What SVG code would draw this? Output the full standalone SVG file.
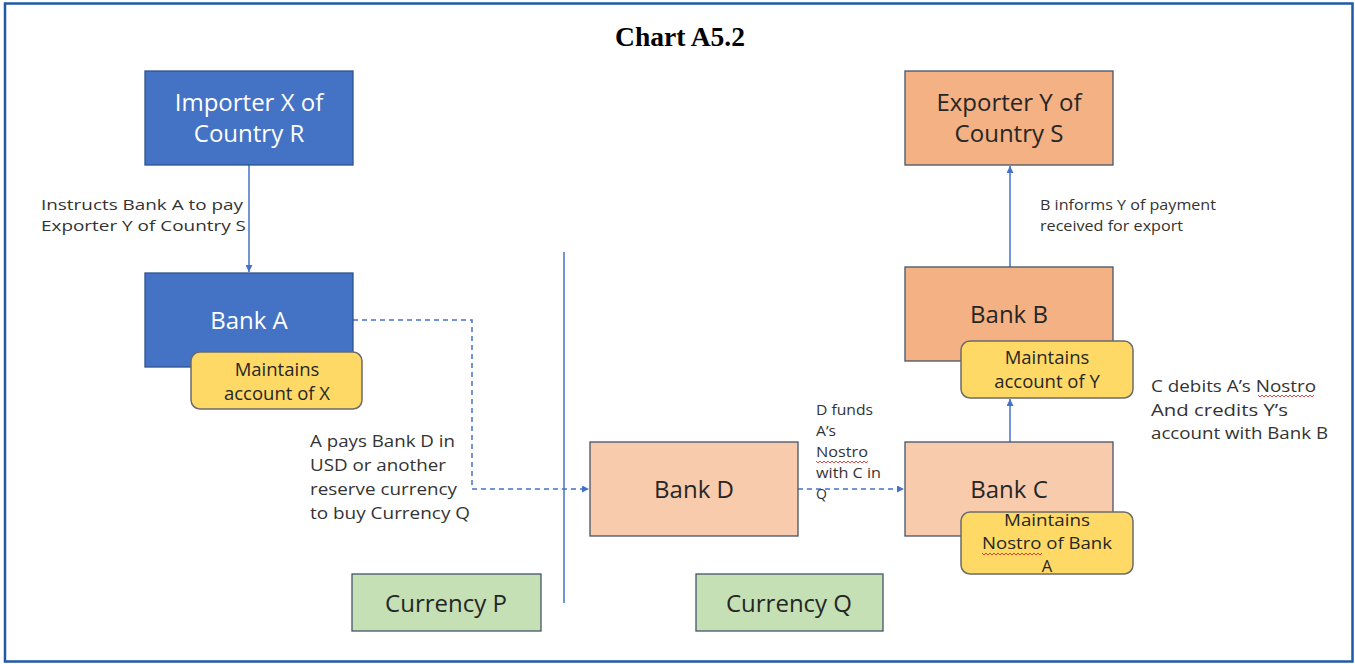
<svg xmlns="http://www.w3.org/2000/svg" width="1355" height="664" viewBox="0 0 1355 664">
<defs>
<style>
.t{font-family:"Open Sans","Noto Sans","Liberation Sans",sans-serif;}
.blue{fill:#4472c4;stroke:#2f528f;stroke-width:1.3;}
.peach{fill:#f8cbad;stroke:#44546a;stroke-width:1.3;}
.orange{fill:#f4b183;stroke:#44546a;stroke-width:1.3;}
.green{fill:#c5e0b4;stroke:#44546a;stroke-width:1.3;}
.yellow{fill:#ffd966;stroke:#6b6b6b;stroke-width:1.5;}
.wt{fill:#ffffff;font-size:24px;text-anchor:middle;}
.dt{fill:#262626;font-size:24px;text-anchor:middle;}
.yt{fill:#262626;font-size:18.5px;text-anchor:middle;}
.yt2{fill:#262626;font-size:16.5px;text-anchor:middle;}
.lbl{fill:#333333;font-size:14px;}
.lbl2{fill:#333333;font-size:16.5px;}
.solid{stroke:#4472c4;stroke-width:1.5;fill:none;}
.dash{stroke:#4472c4;stroke-width:1.5;fill:none;stroke-dasharray:5 4;}
.sq{stroke:#e03030;stroke-width:0.9;fill:none;}
</style>
<marker id="ah" viewBox="0 0 10 10" refX="10" refY="5" markerWidth="7" markerHeight="7" orient="auto" markerUnits="userSpaceOnUse">
<path d="M0,0 L10,5 L0,10 z" fill="#4472c4"/>
</marker>
</defs>
<rect x="5" y="3.5" width="1347.5" height="658" fill="#ffffff" stroke="#1f5aa6" stroke-width="2.5"/>
<text x="680" y="46" text-anchor="middle" font-family="'Liberation Serif',serif" font-weight="bold" font-size="27" fill="#000" textLength="130" lengthAdjust="spacingAndGlyphs">Chart A5.2</text>

<g id="connectors">
<line class="solid" x1="249" y1="165" x2="249" y2="272" marker-end="url(#ah)"/>
<polyline class="dash" points="353,320 472,320 472,489 589,489" marker-end="url(#ah)"/>
<line class="solid" x1="564" y1="252" x2="564" y2="603" stroke="#6a86d6"/>
<line class="dash" x1="798" y1="489" x2="904" y2="489" marker-end="url(#ah)"/>
<line class="solid" x1="1010" y1="442" x2="1010" y2="399" marker-end="url(#ah)"/>
<line class="solid" x1="1010" y1="267" x2="1010" y2="166" marker-end="url(#ah)"/>
</g>

<g id="importerX">
<rect class="blue" x="145" y="71" width="208" height="94"/>
<text class="t wt" x="249" y="111">Importer X of</text>
<text class="t wt" x="249" y="142">Country R</text>
</g>

<g id="bankA">
<rect class="blue" x="145" y="273" width="208" height="94"/>
<text class="t wt" x="249" y="329">Bank A</text>
</g>

<g id="accX">
<rect class="yellow" x="191" y="352" width="171" height="57" rx="9"/>
<text class="t yt" x="277" y="376">Maintains</text>
<text class="t yt" x="277" y="400">account of X</text>
</g>

<g id="lblInstructs">
<text class="t lbl" x="41" y="210" textLength="202" lengthAdjust="spacingAndGlyphs">Instructs Bank A to pay</text>
<text class="t lbl" x="41" y="231" textLength="205" lengthAdjust="spacingAndGlyphs">Exporter Y of Country S</text>
</g>

<g id="lblApays">
<text class="t lbl2" x="310" y="447" textLength="145" lengthAdjust="spacingAndGlyphs">A pays Bank D in</text>
<text class="t lbl2" x="310" y="471" textLength="136" lengthAdjust="spacingAndGlyphs">USD or another</text>
<text class="t lbl2" x="310" y="495" textLength="147" lengthAdjust="spacingAndGlyphs">reserve currency</text>
<text class="t lbl2" x="310" y="519" textLength="160" lengthAdjust="spacingAndGlyphs">to buy Currency Q</text>
</g>

<g id="bankD">
<rect class="peach" x="590" y="442" width="208" height="94"/>
<text class="t dt" x="694" y="498">Bank D</text>
</g>

<g id="lblDfunds">
<text class="t lbl" x="816" y="415" textLength="57" lengthAdjust="spacingAndGlyphs">D funds</text>
<text class="t lbl" x="816" y="436" textLength="20" lengthAdjust="spacingAndGlyphs">A’s</text>
<text class="t lbl" x="816" y="457" textLength="52" lengthAdjust="spacingAndGlyphs">Nostro</text>
<text class="t lbl" x="816" y="478" textLength="65" lengthAdjust="spacingAndGlyphs">with C in</text>
<text class="t lbl" x="816" y="499">Q</text>
<path class="sq" d="M816,461 l2,2 l2,-2 l2,2 l2,-2 l2,2 l2,-2 l2,2 l2,-2 l2,2 l2,-2 l2,2 l2,-2 l2,2 l2,-2 l2,2 l2,-2 l2,2 l2,-2 l2,2 l2,-2 l2,2 l2,-2 l2,2 l2,-2 l2,2 l2,-2"/>
</g>

<g id="bankC">
<rect class="peach" x="905" y="442" width="208" height="94"/>
<text class="t dt" x="1009" y="498">Bank C</text>
</g>

<g id="nostroA">
<rect class="yellow" x="961" y="512" width="172" height="62" rx="9"/>
<text class="t yt2" x="1047" y="526" textLength="86" lengthAdjust="spacingAndGlyphs">Maintains</text>
<text class="t yt2" x="1047" y="549" textLength="130" lengthAdjust="spacingAndGlyphs">Nostro of Bank</text>
<text class="t yt2" x="1047" y="572">A</text>
<path class="sq" d="M982,553 l2,2 l2,-2 l2,2 l2,-2 l2,2 l2,-2 l2,2 l2,-2 l2,2 l2,-2 l2,2 l2,-2 l2,2 l2,-2 l2,2 l2,-2 l2,2 l2,-2 l2,2 l2,-2 l2,2 l2,-2 l2,2 l2,-2 l2,2 l2,-2 l2,2 l2,-2 l2,2 l2,-2"/>
</g>

<g id="bankB">
<rect class="orange" x="905" y="267" width="208" height="94"/>
<text class="t dt" x="1009" y="323">Bank B</text>
</g>

<g id="accY">
<rect class="yellow" x="961" y="341" width="172" height="57" rx="9"/>
<text class="t yt" x="1047" y="364">Maintains</text>
<text class="t yt" x="1047" y="388">account of Y</text>
</g>

<g id="exporterY">
<rect class="orange" x="905" y="71" width="208" height="94"/>
<text class="t dt" x="1009" y="111">Exporter Y of</text>
<text class="t dt" x="1009" y="142">Country S</text>
</g>

<g id="lblBinforms">
<text class="t lbl" x="1040" y="210" textLength="176" lengthAdjust="spacingAndGlyphs">B informs Y of payment</text>
<text class="t lbl" x="1040" y="231" textLength="143" lengthAdjust="spacingAndGlyphs">received for export</text>
</g>

<g id="lblCdebits">
<text class="t lbl2" x="1151" y="392" textLength="165" lengthAdjust="spacingAndGlyphs">C debits A’s Nostro</text>
<text class="t lbl2" x="1151" y="416" textLength="137" lengthAdjust="spacingAndGlyphs">And credits Y’s</text>
<text class="t lbl2" x="1151" y="439" textLength="177" lengthAdjust="spacingAndGlyphs">account with Bank B</text>
<path class="sq" d="M1258,395 l2,2 l2,-2 l2,2 l2,-2 l2,2 l2,-2 l2,2 l2,-2 l2,2 l2,-2 l2,2 l2,-2 l2,2 l2,-2 l2,2 l2,-2 l2,2 l2,-2 l2,2 l2,-2 l2,2 l2,-2 l2,2 l2,-2 l2,2 l2,-2 l2,2 l2,-2"/>
</g>

<g id="currencyP">
<rect class="green" x="352" y="574" width="189" height="57"/>
<text class="t dt" x="446" y="612">Currency P</text>
</g>

<g id="currencyQ">
<rect class="green" x="696" y="574" width="187" height="57"/>
<text class="t dt" x="789" y="612">Currency Q</text>
</g>
</svg>
